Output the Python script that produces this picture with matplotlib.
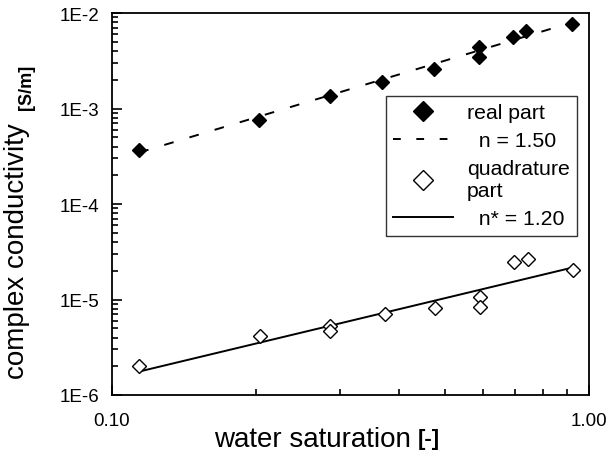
import matplotlib

matplotlib.use("Agg")
import matplotlib.pyplot as plt
from matplotlib.lines import Line2D
from matplotlib.ticker import FixedLocator, LogLocator, NullFormatter

plt.rcParams["font.family"] = ["Liberation Sans", "DejaVu Sans"]

# real part (filled diamonds)
real_sw = [0.114, 0.203, 0.286, 0.369, 0.473, 0.588, 0.588, 0.692, 0.738, 0.920]
real_sigma = [3.67e-4, 7.6e-4, 1.34e-3, 1.88e-3, 2.59e-3, 4.37e-3, 3.44e-3, 5.56e-3, 6.53e-3, 7.67e-3]

# quadrature part (open diamonds)
quad_sw = [0.114, 0.204, 0.287, 0.287, 0.373, 0.476, 0.591, 0.591, 0.697, 0.744, 0.924]
quad_sigma = [2.03e-6, 4.12e-6, 5.32e-6, 4.71e-6, 7.05e-6, 8.15e-6, 1.07e-5, 8.41e-6, 2.45e-5, 2.65e-5, 2.05e-5]

# fitted power laws (end points of the straight lines in log-log space)
fit_real_sw = [0.114, 0.94]
fit_real_sigma = [3.46e-4, 8.2e-3]
fit_quad_sw = [0.114, 0.92]
fit_quad_sigma = [1.76e-6, 2.15e-5]

x_major = [0.1, 1.0]
x_major_labels = ["0.10", "1.00"]
x_minor = [0.2, 0.3, 0.4, 0.5, 0.6, 0.7, 0.8, 0.9]
y_major = [1e-6, 1e-5, 1e-4, 1e-3, 1e-2]
y_major_labels = ["1E-6", "1E-5", "1E-4", "1E-3", "1E-2"]

dash = (0, (5, 8.5))

fig = plt.figure(figsize=(6.08, 4.56), dpi=100)
ax = fig.add_axes([112 / 608, 1 - 396 / 456, (589 - 112) / 608, (396 - 14) / 456])
ax.set_xscale("log")
ax.set_yscale("log")
ax.set_xlim(0.1, 1.0)
ax.set_ylim(1e-6, 1e-2)

ax.plot(fit_real_sw, fit_real_sigma, color="black", lw=1.4, ls=dash)
ax.plot(fit_quad_sw, fit_quad_sigma, color="black", lw=1.4, ls="-")
ax.plot(real_sw, real_sigma, ls="none", marker="D", ms=7.5, mfc="black", mec="black")
ax.plot(quad_sw, quad_sigma, ls="none", marker="D", ms=7.5, mfc="white", mec="black", mew=1.0)

ax.xaxis.set_major_locator(FixedLocator(x_major))
ax.xaxis.set_minor_locator(FixedLocator(x_minor))
ax.set_xticklabels(x_major_labels)
ax.xaxis.set_minor_formatter(NullFormatter())
ax.yaxis.set_major_locator(FixedLocator(y_major))
ax.yaxis.set_minor_locator(LogLocator(base=10, subs=range(2, 10), numticks=20))
ax.set_yticklabels(y_major_labels)
ax.yaxis.set_minor_formatter(NullFormatter())

ax.tick_params(which="both", direction="in", top=False, right=False, width=1.2, labelsize=13.5)
ax.tick_params(which="major", length=7)
ax.tick_params(which="minor", length=4)
ax.tick_params(axis="x", which="major", pad=12)
ax.tick_params(axis="y", which="major", pad=9)
for side in ax.spines.values():
    side.set_linewidth(1.3)

# axis labels with smaller bracketed units
fig.text(17 / 608, 1 - 251 / 456, "complex conductivity", rotation=90, ha="center", va="center", fontsize=20)
fig.text(26 / 608, 1 - 87 / 456, "[S/m]", rotation=90, ha="center", va="center", fontsize=13, fontweight="bold")
fig.text(312 / 608, 1 - 440 / 456, "water saturation", ha="center", va="center", fontsize=20)
fig.text(429 / 608, 1 - 440 / 456, "[-]", ha="center", va="center", fontsize=16, fontweight="bold")

handles = [
    Line2D([], [], ls="none", marker="D", ms=10, mfc="black", mec="black"),
    Line2D([], [], color="black", lw=1.4, ls=(0, (4, 8))),
    Line2D([], [], ls="none", marker="D", ms=10, mfc="white", mec="black"),
    Line2D([], [], color="black", lw=1.4, ls="-"),
]
labels = ["real part", "  n = 1.50", "quadrature\npart", "  n* = 1.20"]
leg = ax.legend(
    handles,
    labels,
    loc="upper left",
    bbox_to_anchor=((386 - 112) / 477, (396 - 97) / 382),
    borderaxespad=0,
    fontsize=15.3,
    frameon=True,
    fancybox=False,
    edgecolor="black",
    handlelength=2.8,
    handletextpad=0.65,
    labelspacing=0.42,
    borderpad=0.35,
)
leg.get_frame().set_linewidth(1.0)

fig.savefig("out.png", dpi=100)
